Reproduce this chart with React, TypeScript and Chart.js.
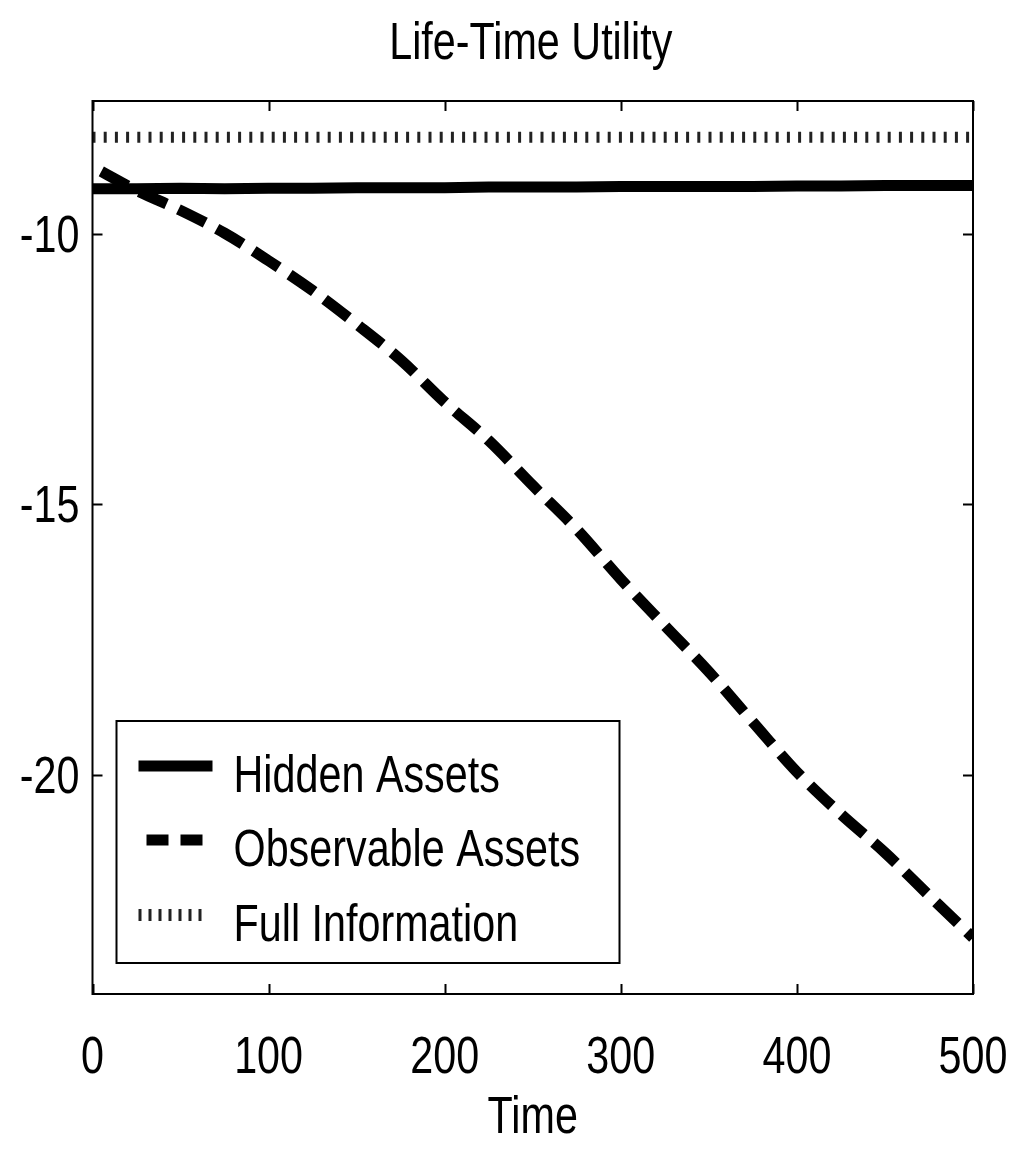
import { useEffect, useRef } from 'react';
import { Chart, registerables } from 'chart.js';

Chart.register(...registerables);

const chartTitle = 'Life-Time Utility';
const xAxisTitle = 'Time';
const seriesLabels = ['Hidden Assets', 'Observable Assets', 'Full Information'];

const xTickValues = [0, 100, 200, 300, 400, 500];
const yTickValues = [-20, -15, -10];
const xRange = [0, 500];
const yRange = [-24.04, -7.55];

const hiddenTime = [0, 25, 50, 75, 100, 125, 150, 175, 200, 225, 250, 275, 300, 325, 350, 375, 400, 425, 450, 475, 500];
const hiddenUtility = [-9.17, -9.17, -9.16, -9.17, -9.16, -9.16, -9.15, -9.15, -9.15, -9.14, -9.14, -9.14, -9.13, -9.13, -9.13, -9.13, -9.12, -9.12, -9.11, -9.11, -9.11];

const observableTime = [5, 25, 50, 75, 100, 125, 150, 175, 200, 225, 250, 275, 300, 325, 350, 375, 400, 425, 450, 475, 500];
const observableUtility = [-8.85, -9.2, -9.57, -9.99, -10.5, -11.05, -11.67, -12.33, -13.11, -13.82, -14.65, -15.46, -16.38, -17.24, -18.09, -19.02, -19.94, -20.72, -21.43, -22.22, -23.0];

const fullInfoTime = [0, 500];
const fullInfoUtility = [-8.22, -8.22];

const FONT = "'Liberation Sans', Arial, Helvetica, sans-serif";
const FONT_SIZE = 51;
const SX = 0.81; // horizontal condensing of the narrow Helvetica look

const toPoints = (xs: number[], ys: number[]) => xs.map((x, i) => ({ x, y: ys[i] }));

function drawText(ctx: CanvasRenderingContext2D, text: string, x: number, y: number, align: 'left' | 'center' | 'right') {
  ctx.save();
  ctx.font = `${FONT_SIZE}px ${FONT}`;
  ctx.textBaseline = 'alphabetic';
  ctx.textAlign = 'left';
  ctx.fillStyle = '#000';
  const w = ctx.measureText(text).width * SX;
  const x0 = align === 'left' ? x : align === 'center' ? x - w / 2 : x - w;
  ctx.translate(x0, y);
  ctx.scale(SX, 1);
  ctx.fillText(text, 0, 0);
  ctx.restore();
}

const boxPlugin = {
  id: 'matlabBox',
  afterDraw(chart: any) {
    const { ctx, chartArea: a, scales } = chart;
    const xs = scales.x;
    const ys = scales.y;
    ctx.save();
    ctx.strokeStyle = '#000';
    ctx.lineWidth = 2;
    ctx.strokeRect(a.left, a.top, a.right - a.left, a.bottom - a.top);
    const tl = 10;
    ctx.beginPath();
    xs.ticks.forEach((t: any) => {
      const px = Math.round(xs.getPixelForValue(t.value)) + 0.5;
      ctx.moveTo(px, a.bottom);
      ctx.lineTo(px, a.bottom - tl);
      ctx.moveTo(px, a.top);
      ctx.lineTo(px, a.top + tl);
    });
    ys.ticks.forEach((t: any) => {
      const py = Math.round(ys.getPixelForValue(t.value)) + 0.5;
      ctx.moveTo(a.left, py);
      ctx.lineTo(a.left + tl, py);
      ctx.moveTo(a.right, py);
      ctx.lineTo(a.right - tl, py);
    });
    ctx.stroke();
    ctx.restore();

    // tick labels, title, axis title
    xs.ticks.forEach((t: any) => {
      drawText(ctx, String(t.value), xs.getPixelForValue(t.value), a.bottom + 79, 'center');
    });
    ys.ticks.forEach((t: any) => {
      drawText(ctx, String(t.value), a.left - 13, ys.getPixelForValue(t.value) + 18, 'right');
    });
    drawText(ctx, chartTitle, (a.left + a.right) / 2 - 2, 59, 'center');
    drawText(ctx, xAxisTitle, (a.left + a.right) / 2, 1133, 'center');

    // legend (inside, lower left)
    ctx.save();
    const lx = a.left + 24;
    const ly = a.top + 620;
    const lw = 503;
    const lh = 242;
    ctx.fillStyle = '#fff';
    ctx.fillRect(lx, ly, lw, lh);
    ctx.lineWidth = 2;
    ctx.strokeStyle = '#000';
    ctx.strokeRect(lx, ly, lw, lh);
    const baselines = [71, 145, 220];
    const samples = [
      { dash: [] as number[], width: 11, color: '#000', x0: 22, x1: 96 },
      { dash: [22, 12], width: 11, color: '#000', x0: 30, x1: 96 },
      { dash: [3, 7], width: 12, color: '#222', x0: 22, x1: 92 },
    ];
    baselines.forEach((b, i) => {
      const s = samples[i];
      ctx.save();
      ctx.strokeStyle = s.color;
      ctx.lineWidth = s.width;
      ctx.lineCap = 'butt';
      ctx.setLineDash(s.dash);
      ctx.beginPath();
      ctx.moveTo(lx + s.x0, ly + b - 26);
      ctx.lineTo(lx + s.x1, ly + b - 26);
      ctx.stroke();
      ctx.restore();
      drawText(ctx, seriesLabels[i], lx + 117, ly + b, 'left');
    });
    ctx.restore();
  },
};

export default function App() {
  const ref = useRef<HTMLCanvasElement | null>(null);
  useEffect(() => {
    document.body.style.margin = '0';
    document.body.style.overflow = 'hidden';
    const canvas = ref.current;
    if (!canvas) return;
    const chart = new Chart(canvas, {
      type: 'line',
      data: {
        datasets: [
          {
            label: seriesLabels[0],
            data: toPoints(hiddenTime, hiddenUtility),
            borderColor: '#000',
            borderWidth: 11,
            pointRadius: 0,
            fill: false,
            clip: 0,
          },
          {
            label: seriesLabels[1],
            data: toPoints(observableTime, observableUtility),
            borderColor: '#000',
            borderWidth: 11,
            borderDash: [30, 13],
            pointRadius: 0,
            fill: false,
            cubicInterpolationMode: 'monotone',
            clip: 0,
          },
          {
            label: seriesLabels[2],
            data: toPoints(fullInfoTime, fullInfoUtility),
            borderColor: '#222',
            borderWidth: 11,
            borderDash: [3, 8.2],
            pointRadius: 0,
            fill: false,
            clip: 0,
          },
        ],
      },
      options: {
        animation: false,
        responsive: false,
        devicePixelRatio: 1,
        layout: { padding: { left: 0, right: 36, top: 101, bottom: 0 } },
        plugins: {
          legend: { display: false },
          tooltip: { enabled: false },
          title: { display: false },
        },
        scales: {
          x: {
            type: 'linear',
            min: xRange[0],
            max: xRange[1],
            afterBuildTicks: (s: any) => {
              s.ticks = xTickValues.map((value) => ({ value }));
            },
            afterFit: (s: any) => {
              s.height = 159;
            },
            grid: { display: false, drawTicks: false },
            border: { display: false },
            ticks: { display: false },
          },
          y: {
            type: 'linear',
            min: yRange[0],
            max: yRange[1],
            afterBuildTicks: (s: any) => {
              s.ticks = yTickValues.map((value) => ({ value }));
            },
            afterFit: (s: any) => {
              s.width = 92.5;
            },
            grid: { display: false, drawTicks: false },
            border: { display: false },
            ticks: { display: false },
          },
        },
      },
      plugins: [boxPlugin],
    } as any);
    return () => chart.destroy();
  }, []);
  return <canvas ref={ref} width={1009} height={1153} style={{ display: 'block' }} />;
}
